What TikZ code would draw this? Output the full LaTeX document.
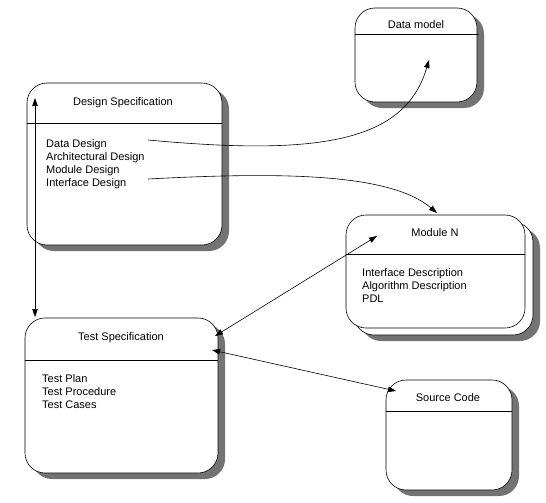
\documentclass[tikz,border=0pt]{standalone}
\usepackage{fontspec}
\setmainfont{Liberation Sans}
\usetikzlibrary{arrows.meta, shadows}

\tikzset{
  kasten/.style={draw, line width=0.6pt, rounded corners=20pt, fill=white, inner sep=0pt, outer sep=0pt,
    drop shadow={shadow xshift=7pt, shadow yshift=-6pt, fill=black!55, opacity=1}},
  kastenflach/.style={draw, line width=0.6pt, rounded corners=20pt, fill=white, inner sep=0pt, outer sep=0pt},
  titel/.style={font=\fontsize{11}{13}\selectfont},
  liste/.style={font=\fontsize{11}{13}\selectfont, align=left, anchor=north west, inner sep=0pt},
  pfeil/.style={line width=0.6pt, -{Triangle[length=8pt,width=5.5pt]}},
  doppel/.style={line width=0.6pt, {Triangle[length=8pt,width=5.5pt]}-{Triangle[length=8pt,width=5.5pt]}}
}

\begin{document}
\begin{tikzpicture}[x=1pt, y=-1pt]
  \useasboundingbox (0,0) rectangle (546,503);
  % 数据模型
  \node[kasten, minimum width=122pt, minimum height=94pt] (dm) at (416,55) {};
  \draw[line width=0.6pt] ([yshift=-26pt]dm.north west) -- ([yshift=-26pt,xshift=2pt]dm.north east);
  \node[titel] (dmtitel) at (416,25) {Data model};
  % 设计说明
  \node[kasten, minimum width=195pt, minimum height=162pt] (ds) at (124.5,164) {};
  \draw[line width=0.6pt] ([yshift=-40pt]ds.north west) -- ([yshift=-40pt]ds.north east);
  \node[titel] (dstitel) at (123,103) {Design Specification};
  \node[liste] (dsliste) at (46,139) {Data Design\\Architectural Design\\Module Design\\Interface Design};
  % 模块 N（两层）
  \node[kasten, minimum width=179pt, minimum height=113pt] (mnback) at (443.5,278.5) {};
  \node[kastenflach, minimum width=179pt, minimum height=113pt] (mn) at (435.5,271.5) {};
  \draw[line width=0.6pt] ([yshift=-39pt]mn.north west) -- ([yshift=-39pt]mn.north east);
  \node[titel] (mntitel) at (435,233) {Module N};
  \node[liste] (mnliste) at (362,268) {Interface Description\\Algorithm Description\\PDL};
  % 测试说明
  \node[kasten, minimum width=193pt, minimum height=155pt] (ts) at (121.5,395.5) {};
  \draw[line width=0.6pt] ([yshift=-42pt]ts.north west) -- ([yshift=-42pt]ts.north east);
  \node[titel] (tstitel) at (121,338) {Test Specification};
  \node[liste] (tsliste) at (42,374) {Test Plan\\Test Procedure\\Test Cases};
  % 源代码
  \node[kasten, minimum width=126pt, minimum height=110pt] (sc) at (449,435) {};
  \draw[line width=0.6pt] ([yshift=-31pt]sc.north west) -- ([yshift=-31pt]sc.north east);
  \node[titel] (sctitel) at (448,398) {Source Code};
  % 连线端点
  \coordinate (ddende) at (148,140);
  \coordinate (idende) at (148,179);
  \coordinate (dmziel) at (429,60);
  \coordinate (mnziel) at (437,213);
  \coordinate (mnlinks) at (377,236);
  \coordinate (tsoben) at (215,336);
  \coordinate (tsmitte) at (212,350);
  \coordinate (sclinks) at (396,391);
  \coordinate (voben) at (35,98);
  \coordinate (vunten) at (35,317);
  % 箭头
  \draw[pfeil] (ddende) .. controls (320,156) and (405,142) .. (dmziel);
  \draw[pfeil] (idende) .. controls (280,172) and (390,173) .. (mnziel);
  \draw[doppel] (tsoben) -- (mnlinks);
  \draw[doppel] (tsmitte) -- (sclinks);
  \draw[doppel] (voben) -- (vunten);
\end{tikzpicture}
\end{document}
